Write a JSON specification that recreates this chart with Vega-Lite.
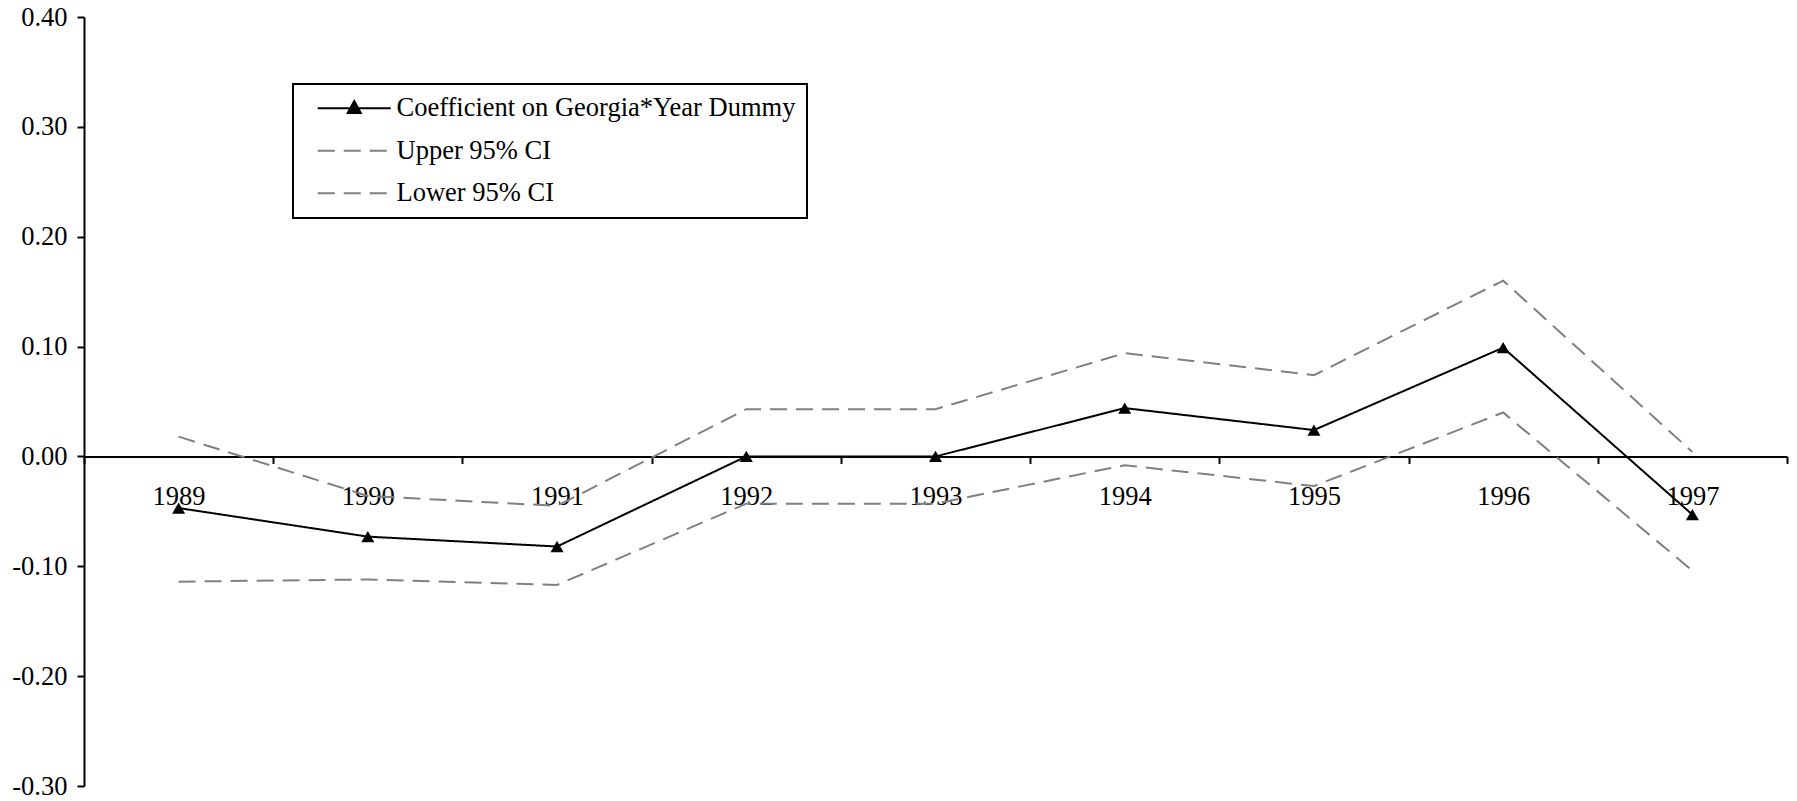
{
  "$schema": "https://vega.github.io/schema/vega-lite/v6.json",
  "autosize": {"type": "none"},
  "padding": {"left": 84, "top": 17, "right": 10, "bottom": 15},
  "width": 1703,
  "height": 769,
  "background": "white",
  "config": {
    "view": {"stroke": null},
    "font": "Liberation Serif"
  },
  "data": {
    "values": [
      {"year": "1989", "series": "Coefficient on Georgia*Year Dummy", "value": -0.047},
      {"year": "1990", "series": "Coefficient on Georgia*Year Dummy", "value": -0.073},
      {"year": "1991", "series": "Coefficient on Georgia*Year Dummy", "value": -0.082},
      {"year": "1992", "series": "Coefficient on Georgia*Year Dummy", "value": 0.0},
      {"year": "1993", "series": "Coefficient on Georgia*Year Dummy", "value": 0.0},
      {"year": "1994", "series": "Coefficient on Georgia*Year Dummy", "value": 0.044},
      {"year": "1995", "series": "Coefficient on Georgia*Year Dummy", "value": 0.024},
      {"year": "1996", "series": "Coefficient on Georgia*Year Dummy", "value": 0.099},
      {"year": "1997", "series": "Coefficient on Georgia*Year Dummy", "value": -0.053},
      {"year": "1989", "series": "Upper 95% CI", "value": 0.018},
      {"year": "1990", "series": "Upper 95% CI", "value": -0.036},
      {"year": "1991", "series": "Upper 95% CI", "value": -0.045},
      {"year": "1992", "series": "Upper 95% CI", "value": 0.043},
      {"year": "1993", "series": "Upper 95% CI", "value": 0.043},
      {"year": "1994", "series": "Upper 95% CI", "value": 0.094},
      {"year": "1995", "series": "Upper 95% CI", "value": 0.074},
      {"year": "1996", "series": "Upper 95% CI", "value": 0.160},
      {"year": "1997", "series": "Upper 95% CI", "value": 0.004},
      {"year": "1989", "series": "Lower 95% CI", "value": -0.114},
      {"year": "1990", "series": "Lower 95% CI", "value": -0.112},
      {"year": "1991", "series": "Lower 95% CI", "value": -0.117},
      {"year": "1992", "series": "Lower 95% CI", "value": -0.043},
      {"year": "1993", "series": "Lower 95% CI", "value": -0.043},
      {"year": "1994", "series": "Lower 95% CI", "value": -0.008},
      {"year": "1995", "series": "Lower 95% CI", "value": -0.027},
      {"year": "1996", "series": "Lower 95% CI", "value": 0.040},
      {"year": "1997", "series": "Lower 95% CI", "value": -0.104}
    ]
  },
  "encoding": {
    "x": {
      "field": "year",
      "type": "ordinal",
      "bandPosition": 0.5,
      "scale": {"type": "band", "paddingInner": 0, "paddingOuter": 0},
      "axis": {
        "title": null,
        "orient": "bottom",
        "offset": -329.57,
        "tickBand": "extent",
        "labelAngle": 0,
        "domainColor": "black",
        "domainWidth": 2,
        "tickColor": "black",
        "tickWidth": 2,
        "tickSize": 7,
        "labelFont": "Liberation Serif",
        "labelFontSize": 26.5,
        "labelColor": "black",
        "labelPadding": 20,
        "grid": false
      }
    },
    "y": {
      "field": "value",
      "type": "quantitative",
      "scale": {"domain": [-0.3, 0.4], "nice": false, "zero": false},
      "axis": {
        "title": null,
        "values": [-0.3, -0.2, -0.1, 0, 0.1, 0.2, 0.3, 0.4],
        "format": ".2f",
        "labelExpr": "replace(datum.label, '\u2212', '-')",
        "grid": false,
        "domainColor": "black",
        "domainWidth": 2,
        "tickColor": "black",
        "tickWidth": 2,
        "tickSize": 7,
        "labelFont": "Liberation Serif",
        "labelFontSize": 26.5,
        "labelColor": "black",
        "labelPadding": 10
      }
    }
  },
  "layer": [
    {
      "mark": {"type": "line", "strokeWidth": 2},
      "encoding": {
        "color": {
          "field": "series",
          "type": "nominal",
          "scale": {
            "domain": ["Coefficient on Georgia*Year Dummy", "Upper 95% CI", "Lower 95% CI"],
            "range": ["black", "#808080", "#808080"]
          },
          "legend": {
            "title": null,
            "orient": "none",
            "legendX": 209,
            "legendY": 67,
            "strokeColor": "black",
            "padding": 11,
            "symbolOffset": 37,
            "symbolSize": 100,
            "labelOffset": 29,
            "labelFont": "Liberation Serif",
            "labelFontSize": 26.5,
            "labelColor": "black",
            "labelLimit": 0,
            "rowPadding": 15.5,
            "encode": {
              "legend": {"update": {"strokeWidth": {"value": 2}}},
              "symbols": {
                "update": {
                  "shape": {"signal": "datum.value === 'Coefficient on Georgia*Year Dummy' ? 'M-7.3,0H7.3M0,-1.45L1.3,0.95L-1.3,0.95Z' : 'M-7.3,0H7.3'"},
                  "fill": {"signal": "datum.value === 'Coefficient on Georgia*Year Dummy' ? 'black' : 'transparent'"},
                  "stroke": {"signal": "datum.value === 'Coefficient on Georgia*Year Dummy' ? 'black' : '#808080'"},
                  "strokeDash": {"signal": "datum.value === 'Coefficient on Georgia*Year Dummy' ? [1,0] : [15,12]"},
                  "strokeWidth": {"value": 2}
                }
              }
            }
          }
        },
        "strokeDash": {
          "field": "series",
          "type": "nominal",
          "scale": {
            "domain": ["Coefficient on Georgia*Year Dummy", "Upper 95% CI", "Lower 95% CI"],
            "range": [[1, 0], [17, 9], [17, 9]]
          },
          "legend": null
        }
      }
    },
    {
      "transform": [{"filter": "datum.series === 'Coefficient on Georgia*Year Dummy'"}],
      "mark": {"type": "point", "shape": "triangle-up", "filled": true, "color": "black", "opacity": 1, "size": 170}
    }
  ]
}
